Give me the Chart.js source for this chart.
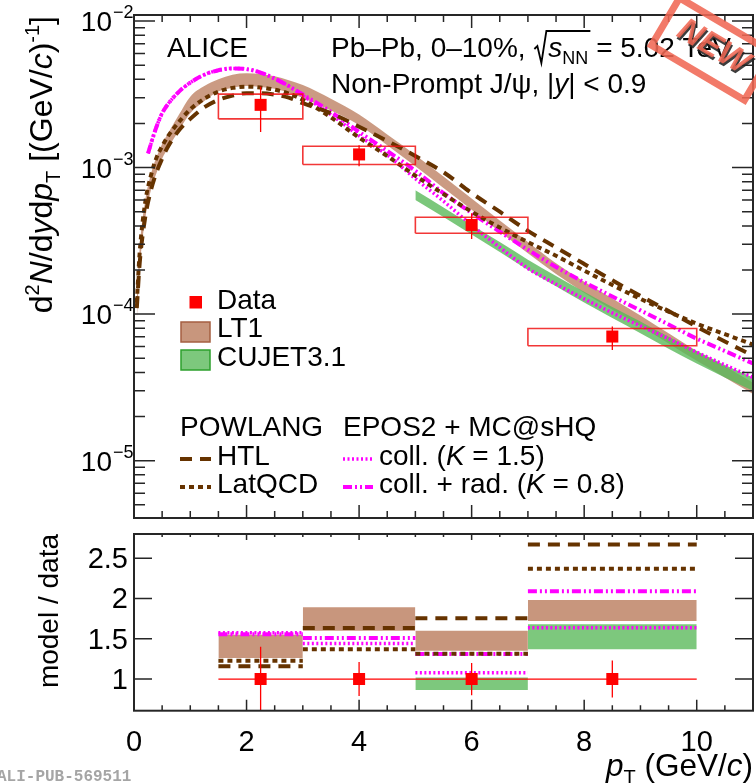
<!DOCTYPE html>
<html>
<head>
<meta charset="utf-8">
<title>Non-prompt J/psi spectrum, Pb-Pb 0-10%</title>
<script src="https://cdn.jsdelivr.net/npm/chart.js@4.4.1/dist/chart.umd.min.js"></script>
<style>
  html, body { margin: 0; padding: 0; background: #ffffff; }
  #stage { position: relative; width: 756px; height: 783px; overflow: hidden; background: #ffffff; }
  #stage canvas { position: absolute; left: 0; top: 0; }
</style>
</head>
<body>
<div id="stage">
  <canvas id="spectrum" width="756" height="783"></canvas>
  <canvas id="ratio" width="756" height="783"></canvas>
</div>
<script>
// ---------- measured spectrum (pT bins in GeV/c) ----------
const binLow    = [1.5, 3.0, 5.0, 7.0];
const binHigh   = [3.0, 5.0, 7.0, 10.0];
const dataPt    = [2.25, 4.0, 6.0, 8.5];
const dataYield = [2.68e-3, 1.23e-3, 4.06e-4, 7.03e-5];
const statLow   = [1.75e-3, 1.02e-3, 3.25e-4, 5.70e-5];
const statHigh  = [3.56e-3, 1.42e-3, 4.87e-4, 8.23e-5];
const systLow   = [2.15e-3, 1.05e-3, 3.56e-4, 6.08e-5];
const systHigh  = [3.17e-3, 1.40e-3, 4.58e-4, 7.97e-5];

// ---------- model curves ----------
const ptGrid  = [0.05, 0.1, 0.2, 0.3, 0.4, 0.5, 0.6, 0.8, 1.0, 1.25, 1.5, 1.75, 2.0, 2.25, 2.5, 2.75, 3.0,
                 3.5, 4.0, 4.5, 5.0, 5.5, 6.0, 6.5, 7.0, 7.5, 8.0, 8.5, 9.0, 9.5, 10.0, 10.5, 11.0];
const htl     = [1.1e-4, 2.2e-4, 4.6e-4, 7.0e-4, 9.3e-4, 1.15e-3, 1.38e-3, 1.8e-3, 2.15e-3, 2.58e-3, 2.9e-3, 3.1e-3,
                 3.22e-3, 3.22e-3, 3.15e-3, 3.0e-3, 2.75e-3, 2.35e-3, 1.9e-3, 1.52e-3, 1.2e-3, 9.3e-4, 6.7e-4,
                 5.0e-4, 3.7e-4, 2.85e-4, 2.2e-4, 1.7e-4, 1.33e-4, 1.05e-4, 8.2e-5, 6.5e-5, 5.2e-5];
const latqcd  = [1.2e-4, 2.6e-4, 5.8e-4, 8.8e-4, 1.17e-3, 1.4e-3, 1.63e-3, 2.05e-3, 2.5e-3, 2.95e-3, 3.3e-3, 3.5e-3,
                 3.57e-3, 3.52e-3, 3.4e-3, 3.2e-3, 2.9e-3, 2.2e-3, 1.6e-3, 1.2e-3, 8.8e-4, 6.6e-4, 5.0e-4,
                 3.9e-4, 3.1e-4, 2.5e-4, 1.98e-4, 1.58e-4, 1.27e-4, 1.04e-4, 8.6e-5, 7.3e-5, 6.2e-5];
const lt1Low  = [9.0e-5, 2.0e-4, 4.5e-4, 7.0e-4, 9.2e-4, 1.15e-3, 1.35e-3, 1.8e-3, 2.35e-3, 2.85e-3, 3.3e-3, 3.5e-3,
                 3.6e-3, 3.55e-3, 3.45e-3, 3.25e-3, 2.98e-3, 2.45e-3, 1.95e-3, 1.42e-3, 1.02e-3, 7.25e-4, 5.15e-4,
                 3.65e-4, 2.6e-4, 1.88e-4, 1.4e-4, 1.07e-4, 8.3e-5, 6.3e-5, 4.8e-5, 3.7e-5, 2.85e-5];
const lt1High = [1.3e-4, 2.8e-4, 6.0e-4, 9.0e-4, 1.18e-3, 1.45e-3, 1.7e-3, 2.3e-3, 3.05e-3, 3.6e-3, 4.0e-3, 4.3e-3,
                 4.4e-3, 4.35e-3, 4.2e-3, 3.95e-3, 3.66e-3, 2.95e-3, 2.3e-3, 1.68e-3, 1.22e-3, 8.7e-4, 6.15e-4,
                 4.35e-4, 3.1e-4, 2.22e-4, 1.66e-4, 1.28e-4, 9.8e-5, 7.4e-5, 5.6e-5, 4.4e-5, 3.4e-5];

const eposPt      = [0.25, 0.3, 0.4, 0.5, 0.6, 0.8, 1.0, 1.25, 1.5, 1.75, 2.0, 2.25, 2.5, 2.75, 3.0, 3.5, 4.0,
                     4.5, 5.0, 5.5, 6.0, 6.5, 7.0, 7.5, 8.0, 8.5, 9.0, 9.5, 10.0, 10.5, 11.0];
const eposColl    = [1.25e-3, 1.45e-3, 1.9e-3, 2.35e-3, 2.7e-3, 3.3e-3, 3.8e-3, 4.3e-3, 4.62e-3, 4.75e-3, 4.7e-3,
                     4.45e-3, 4.05e-3, 3.6e-3, 3.1e-3, 2.3e-3, 1.65e-3, 1.22e-3, 8.4e-4, 5.9e-4, 4.05e-4, 2.85e-4,
                     2.05e-4, 1.6e-4, 1.27e-4, 1.02e-4, 8.3e-5, 6.8e-5, 5.5e-5, 4.5e-5, 3.7e-5];
const eposCollRad = [1.25e-3, 1.45e-3, 1.9e-3, 2.35e-3, 2.7e-3, 3.3e-3, 3.8e-3, 4.3e-3, 4.62e-3, 4.75e-3, 4.7e-3,
                     4.45e-3, 4.05e-3, 3.6e-3, 3.15e-3, 2.4e-3, 1.75e-3, 1.3e-3, 9.5e-4, 6.7e-4, 4.9e-4, 3.65e-4,
                     2.75e-4, 2.1e-4, 1.65e-4, 1.32e-4, 1.06e-4, 8.5e-5, 6.8e-5, 5.6e-5, 4.6e-5];

const cujetPt   = [5.0, 5.5, 6.0, 6.5, 7.0, 7.5, 8.0, 8.5, 9.0, 9.5, 10.0, 10.5, 11.0];
const cujetLow  = [6.0e-4, 4.6e-4, 3.5e-4, 2.65e-4, 2.0e-4, 1.55e-4, 1.2e-4, 9.4e-5, 7.4e-5, 5.8e-5, 4.6e-5, 3.7e-5, 3.0e-5];
const cujetHigh = [7.0e-4, 5.35e-4, 4.05e-4, 3.1e-4, 2.35e-4, 1.82e-4, 1.42e-4, 1.12e-4, 8.9e-5, 7.0e-5, 5.6e-5, 4.5e-5, 3.7e-5];

// ---------- model / data, per pT bin ----------
const ratioData      = [1, 1, 1, 1];
const ratioStatLow   = [0.60, 0.79, 0.80, 0.77];
const ratioStatHigh  = [1.40, 1.21, 1.20, 1.23];
const ratioLt1Low    = [1.26, 1.60, 1.35, 1.72];
const ratioLt1High   = [1.55, 1.89, 1.60, 1.98];
const ratioCujetLow  = [null, null, 0.865, 1.37];
const ratioCujetHigh = [null, null, 1.02, 1.68];
const ratioHtl       = [1.16, 1.633, 1.753, 2.67];
const ratioLatqcd    = [1.227, 1.37, 1.314, 2.37];
const ratioColl      = [1.575, 1.44, 1.078, 1.636];
const ratioCollRad   = [1.555, 1.51, 1.31, 2.09];

// ---------- axis ticks ----------
const xTickValues     = [0, 2, 4, 6, 8, 10];
const yDecades        = [-5, -4, -3, -2];
const ratioTickValues = [1, 1.5, 2, 2.5];
const ratioTickLabels = ['1', '1.5', '2', '2.5'];

// ---------- styles ----------
const FONT = '"Liberation Sans", Arial, Helvetica, sans-serif';
const AXIS = '#262626';
const RED = '#ff0000';
const RED_BOX = 'rgba(240, 20, 20, 0.85)';
const TAN_FILL = 'rgba(190, 130, 100, 0.8)';
const GREEN_FILL = 'rgba(90, 185, 90, 0.8)';
const NONE = 'rgba(0,0,0,0)';
const HTL_STYLE     = { borderColor: '#663300', borderWidth: 4,   borderDash: [12, 8] };
const LAT_STYLE     = { borderColor: '#663300', borderWidth: 4,   borderDash: [5, 4] };
const COLL_STYLE    = { borderColor: '#ff00ff', borderWidth: 3.5, borderDash: [2, 2.5] };
const COLLRAD_STYLE = { borderColor: '#ff00ff', borderWidth: 4,   borderDash: [9, 3, 2, 3, 2, 3] };
const SMOOTH = { cubicInterpolationMode: 'monotone' };

// ---------- dataset builders ----------
const pts = (xs, ys) => xs.map((x, i) => ({ x, y: ys[i] }));
function vBars(xs, lo, hi) {
  const out = [];
  xs.forEach((x, i) => { out.push({ x, y: lo[i] }, { x, y: hi[i] }, { x, y: null }); });
  return out;
}
function boxes(x0, x1, lo, hi) {
  const out = [];
  x0.forEach((a, i) => {
    const b = x1[i];
    out.push({ x: a, y: lo[i] }, { x: b, y: lo[i] }, { x: b, y: hi[i] }, { x: a, y: hi[i] }, { x: a, y: lo[i] }, { x: a, y: null });
  });
  return out;
}
function steps(x0, x1, vals) {
  const out = [];
  x0.forEach((a, i) => { out.push({ x: a, y: vals[i] }, { x: x1[i], y: vals[i] }, { x: x1[i], y: null }); });
  return out;
}
function lineSet(data, style, extra) {
  return Object.assign({ data, pointRadius: 0, fill: false, borderCapStyle: 'butt', borderJoinStyle: 'miter',
                         borderColor: NONE, backgroundColor: NONE }, style, extra || {});
}
function bandSets(x0, x1, lo, hi, color) {
  const out = [];
  x0.forEach((a, i) => {
    if (lo[i] == null) return;
    out.push(lineSet([{ x: a, y: lo[i] }, { x: x1[i], y: lo[i] }], { borderWidth: 0 }));
    out.push(lineSet([{ x: a, y: hi[i] }, { x: x1[i], y: hi[i] }], { borderWidth: 0 }, { fill: '-1', backgroundColor: color }));
  });
  return out;
}
const markerSet = (data) => ({ data, showLine: false, pointStyle: 'rect', pointRadius: 8.5,
                               pointBackgroundColor: RED, pointBorderWidth: 0, borderColor: NONE });

// ---------- rich text ----------
function segFont(s, size) {
  const sz = (s.sub || s.sup) ? Math.round(size * 0.64) : size;
  return (s.it ? 'italic ' : '') + (s.bold ? 'bold ' : '') + sz + 'px ' + FONT;
}
function richWidth(ctx, segs, size) {
  let w = 0;
  for (const s of segs) { ctx.font = segFont(s, size); w += ctx.measureText(s.t).width; }
  return w;
}
function drawRich(ctx, segs, x, y, size, align) {
  let cx = x;
  if (align === 'right') cx = x - richWidth(ctx, segs, size);
  else if (align === 'center') cx = x - richWidth(ctx, segs, size) / 2;
  ctx.textAlign = 'left';
  ctx.textBaseline = 'alphabetic';
  for (const s of segs) {
    ctx.font = segFont(s, size);
    const dy = s.sup ? -size * 0.42 : (s.sub ? size * 0.24 : 0);
    ctx.fillText(s.t, cx, y + dy);
    cx += ctx.measureText(s.t).width;
  }
  return cx;
}
function sampleLine(ctx, style, x0, x1, y) {
  ctx.save();
  ctx.strokeStyle = style.borderColor;
  ctx.lineWidth = style.borderWidth;
  ctx.setLineDash(style.borderDash);
  ctx.lineCap = 'butt';
  ctx.beginPath(); ctx.moveTo(x0, y); ctx.lineTo(x1, y); ctx.stroke();
  ctx.restore();
}

// ---------- spectrum panel decorations ----------
const spectrumDecor = {
  id: 'spectrumDecor',
  afterDraw(chart) {
    const { ctx, chartArea: a, scales: { x, y } } = chart;
    ctx.save();
    ctx.strokeStyle = AXIS; ctx.lineWidth = 1.5; ctx.setLineDash([]);
    ctx.beginPath();
    for (let i = 0; i * 0.5 <= x.max + 1e-9; i++) {
      const px = x.getPixelForValue(i * 0.5);
      const L = (i % 4 === 0) ? 13 : 7;
      ctx.moveTo(px, a.bottom); ctx.lineTo(px, a.bottom - L);
      ctx.moveTo(px, a.top); ctx.lineTo(px, a.top + L);
    }
    for (let e = -6; e <= -2; e++) {
      for (let m = 1; m <= 9; m++) {
        const v = m * Math.pow(10, e);
        if (v < y.min || v > y.max) continue;
        const py = y.getPixelForValue(v);
        const L = m === 1 ? 21 : 11;
        ctx.moveTo(a.left, py); ctx.lineTo(a.left + L, py);
        ctx.moveTo(a.right, py); ctx.lineTo(a.right - L, py);
      }
    }
    ctx.stroke();
    ctx.lineWidth = 2;
    ctx.strokeRect(a.left, a.top, a.right - a.left, a.bottom - a.top);

    ctx.fillStyle = '#000';
    for (const e of yDecades) {
      const py = y.getPixelForValue(Math.pow(10, e));
      ctx.font = '28px ' + FONT; ctx.textAlign = 'right'; ctx.textBaseline = 'alphabetic';
      ctx.fillText('10', 112, py + 10);
      ctx.font = '18px ' + FONT; ctx.textAlign = 'left';
      ctx.fillText('\u2212' + Math.abs(e), 113, py - 3);
    }

    // y axis title
    ctx.save();
    ctx.translate(52, 16);
    ctx.rotate(-Math.PI / 2);
    drawRich(ctx, [{ t: 'd' }, { t: '2', sup: true }, { t: 'N', it: true }, { t: '/d' }, { t: 'y', it: true }, { t: 'd' },
                   { t: 'p', it: true }, { t: 'T', sub: true }, { t: ' [(GeV/' }, { t: 'c', it: true }, { t: ')' },
                   { t: '-1', sup: true }, { t: ']' }], 0, 0, 32, 'right');
    ctx.restore();

    // header
    ctx.fillStyle = '#000';
    drawRich(ctx, [{ t: 'ALICE' }], 167, 57, 28);
    let cx = drawRich(ctx, [{ t: 'Pb\u2013Pb, 0\u201310%, ' }], 331, 57, 28);
    const rootSegs = [{ t: 's', it: true }, { t: 'NN', sub: true }];
    const rw = richWidth(ctx, rootSegs, 28);
    ctx.strokeStyle = '#000'; ctx.lineWidth = 1.8;
    ctx.beginPath();
    ctx.moveTo(cx + 1, 49); ctx.lineTo(cx + 4, 46); ctx.lineTo(cx + 8, 63); ctx.lineTo(cx + 13, 31); ctx.lineTo(cx + 15 + rw + 2, 31);
    ctx.stroke();
    cx = drawRich(ctx, rootSegs, cx + 15, 57, 28);
    drawRich(ctx, [{ t: ' = 5.02 TeV' }], cx, 57, 28);
    drawRich(ctx, [{ t: 'Non-Prompt J/\u03c8, |' }, { t: 'y', it: true }, { t: '| < 0.9' }], 331, 93, 28);

    // legend: data and bands
    ctx.fillStyle = RED; ctx.fillRect(189.5, 296, 12.5, 12.5);
    ctx.fillStyle = 'rgb(200,150,125)'; ctx.fillRect(181, 322, 29, 20);
    ctx.strokeStyle = 'rgb(165,95,65)'; ctx.lineWidth = 1.5; ctx.strokeRect(181, 322, 29, 20);
    ctx.fillStyle = 'rgb(125,200,125)'; ctx.fillRect(181, 350, 29, 20);
    ctx.strokeStyle = 'rgb(45,160,45)'; ctx.strokeRect(181, 350, 29, 20);
    ctx.fillStyle = '#000';
    drawRich(ctx, [{ t: 'Data' }], 217, 309, 28);
    drawRich(ctx, [{ t: 'LT1' }], 217, 337, 28);
    drawRich(ctx, [{ t: 'CUJET3.1' }], 217, 366, 28);

    // legend: transport models
    drawRich(ctx, [{ t: 'POWLANG' }], 180, 436, 28);
    drawRich(ctx, [{ t: 'EPOS2 + MC@sHQ' }], 343, 436, 28);
    sampleLine(ctx, HTL_STYLE, 180, 211, 459);
    sampleLine(ctx, LAT_STYLE, 180, 211, 487);
    sampleLine(ctx, COLL_STYLE, 343, 373, 459);
    sampleLine(ctx, COLLRAD_STYLE, 343, 373, 487);
    ctx.fillStyle = '#000';
    drawRich(ctx, [{ t: 'HTL' }], 217, 465, 28);
    drawRich(ctx, [{ t: 'LatQCD' }], 217, 493, 28);
    drawRich(ctx, [{ t: 'coll. (' }, { t: 'K', it: true }, { t: ' = 1.5)' }], 379, 465, 28);
    drawRich(ctx, [{ t: 'coll. + rad. (' }, { t: 'K', it: true }, { t: ' = 0.8)' }], 379, 493, 28);

    // stamp
    ctx.save();
    ctx.translate(712, 49);
    ctx.rotate(30.6 * Math.PI / 180);
    ctx.globalAlpha = 0.88;
    ctx.strokeStyle = 'rgb(240,104,84)'; ctx.lineWidth = 7;
    ctx.strokeRect(-54, -27.5, 108, 55);
    ctx.font = 'italic bold 33px ' + FONT;
    ctx.textAlign = 'center'; ctx.textBaseline = 'middle';
    ctx.fillStyle = '#222'; ctx.fillText('NEW', 2, 0);
    ctx.fillStyle = 'rgb(240,104,84)'; ctx.fillText('NEW', 0, -2);
    ctx.restore();

    ctx.restore();
  }
};

// ---------- ratio panel decorations ----------
const ratioDecor = {
  id: 'ratioDecor',
  afterDraw(chart) {
    const { ctx, chartArea: a, scales: { x, y } } = chart;
    ctx.save();
    ctx.strokeStyle = AXIS; ctx.lineWidth = 1.5; ctx.setLineDash([]);
    ctx.beginPath();
    for (let i = 0; i * 0.5 <= x.max + 1e-9; i++) {
      const px = x.getPixelForValue(i * 0.5);
      const major = i % 4 === 0;
      ctx.moveTo(px, a.bottom); ctx.lineTo(px, a.bottom - (major ? 11 : 5.5));
      ctx.moveTo(px, a.top); ctx.lineTo(px, a.top + (major ? 6 : 3));
    }
    for (const v of ratioTickValues) {
      const py = y.getPixelForValue(v);
      ctx.moveTo(a.left, py); ctx.lineTo(a.left + 18, py);
      ctx.moveTo(a.right, py); ctx.lineTo(a.right - 18, py);
    }
    ctx.stroke();
    ctx.lineWidth = 2;
    ctx.strokeRect(a.left, a.top, a.right - a.left, a.bottom - a.top);

    ctx.fillStyle = '#000';
    ctx.font = '29px ' + FONT; ctx.textBaseline = 'alphabetic';
    ctx.textAlign = 'center';
    for (const v of xTickValues) ctx.fillText(String(v), x.getPixelForValue(v), 751);
    ctx.textAlign = 'right';
    ratioTickValues.forEach((v, i) => ctx.fillText(ratioTickLabels[i], 128, y.getPixelForValue(v) + 10));

    ctx.save();
    ctx.translate(58, 534);
    ctx.rotate(-Math.PI / 2);
    drawRich(ctx, [{ t: 'model / data' }], 0, 0, 28, 'right');
    ctx.restore();

    drawRich(ctx, [{ t: 'p', it: true }, { t: 'T', sub: true }, { t: ' (GeV/' }, { t: 'c', it: true }, { t: ')' }], 753, 776, 31.5, 'right');

    ctx.font = 'bold 16px "Liberation Mono", "DejaVu Sans Mono", monospace';
    ctx.fillStyle = 'rgb(165,165,165)'; ctx.textAlign = 'left';
    ctx.fillText('ALI-PUB-569511', -3, 781);
    ctx.restore();
  }
};

// ---------- charts ----------
const common = {
  responsive: false, animation: false, devicePixelRatio: 1, events: [],
  plugins: { legend: { display: false }, tooltip: { enabled: false }, colors: { enabled: false } },
  elements: { point: { radius: 0 } }
};

const spectrumSets = [
  markerSet(pts(dataPt, dataYield)),
  lineSet(vBars(dataPt, statLow, statHigh), { borderColor: RED, borderWidth: 1.3 }),
  lineSet(boxes(binLow, binHigh, systLow, systHigh), { borderColor: RED_BOX, borderWidth: 1.6 }),
  lineSet(pts(ptGrid, htl), HTL_STYLE, SMOOTH),
  lineSet(pts(ptGrid, latqcd), LAT_STYLE, SMOOTH),
  lineSet(pts(eposPt, eposCollRad), COLLRAD_STYLE, SMOOTH),
  lineSet(pts(eposPt, eposColl), COLL_STYLE, SMOOTH),
  lineSet(pts(cujetPt, cujetLow), { borderWidth: 0 }, SMOOTH),
  lineSet(pts(cujetPt, cujetHigh), { borderWidth: 0 }, Object.assign({ fill: '-1', backgroundColor: GREEN_FILL }, SMOOTH)),
  lineSet(pts(ptGrid, lt1Low), { borderWidth: 0 }, SMOOTH),
  lineSet(pts(ptGrid, lt1High), { borderWidth: 0 }, Object.assign({ fill: '-1', backgroundColor: TAN_FILL }, SMOOTH))
];

new Chart(document.getElementById('spectrum'), {
  type: 'line',
  data: { datasets: spectrumSets },
  options: Object.assign({}, common, {
    layout: { autoPadding: false, padding: { left: 134, right: 3, top: 15, bottom: 265 } },
    scales: {
      x: { type: 'linear', min: 0, max: 11, display: false },
      y: { type: 'logarithmic', min: 4.06e-6, max: 1.1e-2, display: false }
    }
  }),
  plugins: [spectrumDecor]
});

const ratioSets = [
  markerSet(pts(dataPt, ratioData)),
  lineSet(vBars(dataPt, ratioStatLow, ratioStatHigh), { borderColor: RED, borderWidth: 1.3 }),
  lineSet(steps(binLow, binHigh, ratioData), { borderColor: RED, borderWidth: 1.3 }),
  lineSet(steps(binLow, binHigh, ratioHtl), HTL_STYLE),
  lineSet(steps(binLow, binHigh, ratioLatqcd), LAT_STYLE),
  lineSet(steps(binLow, binHigh, ratioCollRad), COLLRAD_STYLE),
  lineSet(steps(binLow, binHigh, ratioColl), COLL_STYLE),
  ...bandSets(binLow, binHigh, ratioCujetLow, ratioCujetHigh, 'rgb(125,200,125)'),
  ...bandSets(binLow, binHigh, ratioLt1Low, ratioLt1High, 'rgb(200,150,125)')
];

new Chart(document.getElementById('ratio'), {
  type: 'line',
  data: { datasets: ratioSets },
  options: Object.assign({}, common, {
    layout: { autoPadding: false, padding: { left: 134, right: 3, top: 534, bottom: 72.3 } },
    scales: {
      x: { type: 'linear', min: 0, max: 11, display: false },
      y: { type: 'linear', min: 0.607, max: 2.8, display: false }
    }
  }),
  plugins: [ratioDecor]
});
</script>
</body>
</html>
